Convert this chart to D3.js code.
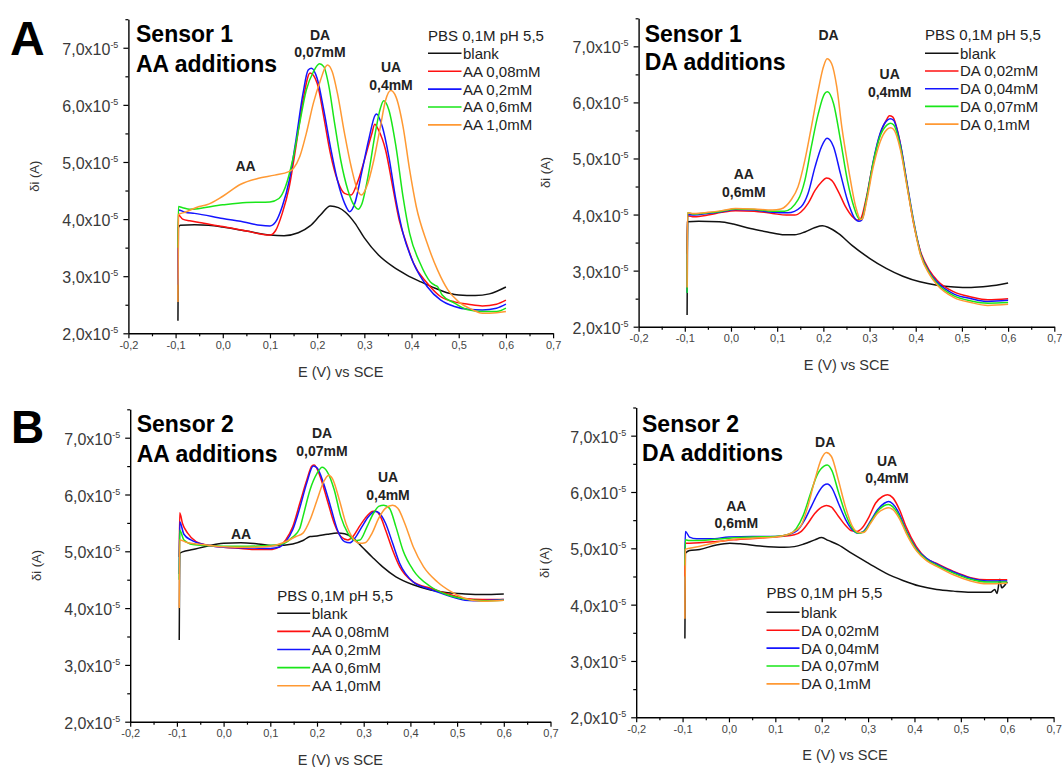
<!DOCTYPE html>
<html>
<head>
<meta charset="utf-8">
<script src="https://cdn.jsdelivr.net/npm/d3@7"></script>
<style>
  body { margin: 0; background: #fff; }
  svg { display: block; }
  text { font-family: "Liberation Sans", Arial, sans-serif; }
</style>
</head>
<body>
<svg id="chart" width="1062" height="767"></svg>
<script>
// Differential pulse voltammograms, current in units of 1e-5 A vs potential E (V vs SCE)

// ---- Sensor 1, AA additions ----
const s1aaBlank = [[-0.095,2.22],[-0.094,3.85],[-0.09,3.89],[-0.06,3.9],[-0.03,3.89],[0.0,3.86],[0.05,3.79],[0.1,3.72],[0.13,3.71],[0.16,3.76],[0.185,3.88],[0.207,4.07],[0.228,4.23],[0.245,4.2],[0.26,4.12],[0.28,3.93],[0.30,3.67],[0.33,3.37],[0.36,3.17],[0.39,3.02],[0.42,2.9],[0.45,2.79],[0.48,2.7],[0.5,2.67],[0.535,2.66],[0.565,2.69],[0.6,2.81]];
const s1aaAA008 = [[-0.095,2.95],[-0.094,4.07],[-0.085,4.0],[-0.07,3.97],[-0.05,3.94],[0.0,3.87],[0.05,3.79],[0.1,3.72],[0.112,3.8],[0.126,4.1],[0.141,4.57],[0.155,5.27],[0.17,6.08],[0.185,6.56],[0.2,6.38],[0.214,5.79],[0.228,5.15],[0.243,4.68],[0.258,4.45],[0.272,4.42],[0.287,4.68],[0.30,5.03],[0.316,5.5],[0.322,5.66],[0.33,5.56],[0.345,5.21],[0.36,4.57],[0.374,3.98],[0.389,3.58],[0.404,3.23],[0.433,2.88],[0.462,2.64],[0.491,2.55],[0.52,2.51],[0.55,2.48],[0.58,2.51],[0.6,2.58]];
const s1aaAA02 = [[-0.095,2.85],[-0.094,4.16],[-0.08,4.12],[-0.06,4.1],[0.0,4.01],[0.05,3.94],[0.08,3.89],[0.1,3.88],[0.112,3.95],[0.126,4.22],[0.141,4.68],[0.155,5.38],[0.17,6.2],[0.181,6.61],[0.188,6.64],[0.2,6.46],[0.214,5.91],[0.228,5.27],[0.243,4.68],[0.258,4.28],[0.269,4.13],[0.28,4.28],[0.294,4.8],[0.309,5.38],[0.323,5.82],[0.326,5.84],[0.338,5.62],[0.352,5.09],[0.367,4.33],[0.382,3.75],[0.404,3.23],[0.433,2.82],[0.462,2.58],[0.491,2.47],[0.52,2.42],[0.55,2.41],[0.58,2.44],[0.6,2.51]];
const s1aaAA06 = [[-0.095,3.5],[-0.094,4.22],[-0.085,4.2],[-0.07,4.17],[0.0,4.25],[0.05,4.29],[0.1,4.3],[0.119,4.36],[0.133,4.57],[0.148,5.03],[0.163,5.68],[0.177,6.26],[0.192,6.58],[0.205,6.72],[0.214,6.67],[0.225,6.32],[0.236,5.73],[0.25,5.03],[0.265,4.51],[0.28,4.22],[0.287,4.17],[0.294,4.25],[0.309,4.8],[0.323,5.5],[0.334,5.94],[0.341,6.07],[0.352,5.91],[0.367,5.27],[0.382,4.39],[0.396,3.75],[0.418,3.23],[0.44,2.9],[0.45,2.84],[0.455,2.82],[0.465,2.67],[0.491,2.53],[0.52,2.41],[0.55,2.38],[0.58,2.38],[0.6,2.44]];
const s1aaAA10 = [[-0.095,2.55],[-0.094,4.08],[-0.08,4.12],[-0.05,4.22],[-0.034,4.25],[0.0,4.4],[0.038,4.61],[0.074,4.71],[0.11,4.77],[0.14,4.83],[0.15,4.89],[0.163,5.09],[0.177,5.5],[0.192,6.03],[0.207,6.43],[0.218,6.67],[0.222,6.7],[0.232,6.58],[0.243,6.2],[0.258,5.5],[0.272,4.92],[0.287,4.48],[0.294,4.42],[0.305,4.57],[0.32,5.03],[0.334,5.62],[0.345,6.08],[0.356,6.25],[0.367,6.14],[0.382,5.62],[0.396,4.86],[0.41,4.22],[0.433,3.58],[0.455,3.11],[0.477,2.76],[0.5,2.55],[0.53,2.41],[0.55,2.35],[0.58,2.36],[0.6,2.38]];

// ---- Sensor 1, DA additions ----
const s1daBlank = [[-0.095,2.21],[-0.094,3.87],[-0.07,3.88],[-0.025,3.87],[0.005,3.83],[0.042,3.75],[0.079,3.69],[0.116,3.64],[0.138,3.64],[0.16,3.69],[0.182,3.77],[0.198,3.8],[0.211,3.77],[0.233,3.66],[0.262,3.45],[0.3,3.22],[0.336,3.04],[0.372,2.9],[0.409,2.8],[0.446,2.74],[0.483,2.71],[0.52,2.7],[0.556,2.72],[0.6,2.78]];
const s1daDA002 = [[-0.095,3.3],[-0.094,3.98],[-0.08,3.96],[-0.05,3.99],[-0.02,4.04],[0.01,4.07],[0.05,4.06],[0.09,4.02],[0.12,3.99],[0.138,3.99],[0.152,4.05],[0.167,4.2],[0.182,4.43],[0.196,4.58],[0.207,4.65],[0.218,4.61],[0.233,4.4],[0.248,4.14],[0.262,3.97],[0.273,3.9],[0.281,3.93],[0.292,4.26],[0.306,4.85],[0.321,5.38],[0.336,5.68],[0.343,5.76],[0.35,5.74],[0.365,5.33],[0.38,4.6],[0.394,3.9],[0.41,3.35],[0.43,3.0],[0.446,2.83],[0.483,2.62],[0.52,2.53],[0.556,2.48],[0.6,2.5]];
const s1daDA004 = [[-0.095,2.6],[-0.094,4.0],[-0.08,3.99],[-0.05,4.02],[-0.02,4.05],[0.01,4.09],[0.05,4.08],[0.09,4.04],[0.123,4.03],[0.152,4.14],[0.167,4.38],[0.182,4.85],[0.196,5.21],[0.208,5.36],[0.222,5.21],[0.237,4.73],[0.252,4.26],[0.266,3.96],[0.277,3.88],[0.283,3.9],[0.294,4.3],[0.308,4.95],[0.323,5.45],[0.338,5.68],[0.345,5.71],[0.352,5.68],[0.367,5.25],[0.382,4.52],[0.396,3.86],[0.41,3.33],[0.43,2.97],[0.446,2.8],[0.483,2.58],[0.52,2.5],[0.556,2.45],[0.6,2.47]];
const s1daDA007 = [[-0.095,2.6],[-0.094,4.03],[-0.08,4.01],[-0.05,4.03],[-0.02,4.06],[0.01,4.1],[0.05,4.09],[0.09,4.06],[0.116,4.06],[0.145,4.26],[0.16,4.61],[0.174,5.21],[0.189,5.8],[0.203,6.16],[0.209,6.19],[0.222,5.98],[0.237,5.33],[0.252,4.61],[0.266,4.14],[0.277,3.93],[0.283,3.92],[0.294,4.3],[0.308,4.93],[0.323,5.4],[0.338,5.6],[0.345,5.63],[0.352,5.6],[0.367,5.2],[0.382,4.48],[0.396,3.84],[0.41,3.31],[0.43,2.95],[0.446,2.77],[0.483,2.55],[0.52,2.46],[0.556,2.42],[0.6,2.43]];
const s1daDA01 = [[-0.095,2.7],[-0.094,4.03],[-0.08,4.02],[-0.05,4.04],[-0.02,4.07],[0.01,4.11],[0.05,4.1],[0.09,4.08],[0.108,4.1],[0.13,4.26],[0.145,4.49],[0.16,4.97],[0.174,5.56],[0.189,6.22],[0.2,6.63],[0.208,6.78],[0.218,6.69],[0.229,6.28],[0.24,5.56],[0.255,4.79],[0.27,4.14],[0.281,3.91],[0.285,3.93],[0.294,4.25],[0.308,4.85],[0.323,5.3],[0.338,5.52],[0.345,5.55],[0.352,5.52],[0.367,5.15],[0.382,4.46],[0.396,3.82],[0.41,3.29],[0.43,2.93],[0.446,2.75],[0.483,2.52],[0.52,2.43],[0.556,2.38],[0.6,2.4]];

// ---- Sensor 2, AA additions ----
const s2aaBlank = [[-0.095,3.44],[-0.094,4.96],[-0.088,4.99],[-0.066,5.03],[-0.036,5.09],[0.0,5.14],[0.037,5.15],[0.074,5.13],[0.111,5.1],[0.148,5.13],[0.17,5.19],[0.185,5.26],[0.2,5.27],[0.222,5.3],[0.244,5.32],[0.259,5.31],[0.273,5.26],[0.296,5.08],[0.318,4.9],[0.34,4.73],[0.369,4.55],[0.406,4.41],[0.443,4.32],[0.48,4.27],[0.517,4.25],[0.554,4.24],[0.6,4.25]];
const s2aaAA008 = [[-0.095,4.9],[-0.094,5.68],[-0.088,5.49],[-0.077,5.32],[-0.059,5.17],[-0.036,5.11],[0.0,5.07],[0.037,5.05],[0.074,5.03],[0.104,5.03],[0.119,5.08],[0.133,5.2],[0.148,5.43],[0.163,5.84],[0.178,6.25],[0.189,6.5],[0.194,6.52],[0.207,6.31],[0.222,5.9],[0.237,5.49],[0.251,5.26],[0.266,5.2],[0.277,5.26],[0.288,5.4],[0.303,5.58],[0.318,5.7],[0.325,5.71],[0.336,5.61],[0.347,5.37],[0.362,5.02],[0.377,4.73],[0.406,4.46],[0.443,4.35],[0.48,4.25],[0.517,4.17],[0.554,4.15],[0.6,4.15]];
const s2aaAA02 = [[-0.095,4.6],[-0.094,5.52],[-0.085,5.3],[-0.07,5.2],[-0.036,5.11],[0.0,5.07],[0.05,5.06],[0.1,5.05],[0.119,5.07],[0.133,5.17],[0.148,5.38],[0.163,5.76],[0.178,6.2],[0.192,6.5],[0.2,6.47],[0.214,6.2],[0.229,5.79],[0.244,5.37],[0.259,5.17],[0.27,5.15],[0.281,5.23],[0.296,5.43],[0.31,5.61],[0.325,5.7],[0.332,5.68],[0.347,5.49],[0.362,5.14],[0.377,4.79],[0.406,4.46],[0.443,4.33],[0.48,4.22],[0.517,4.14],[0.554,4.13],[0.6,4.15]];
const s2aaAA06 = [[-0.095,4.5],[-0.094,5.37],[-0.085,5.2],[-0.066,5.12],[-0.036,5.1],[0.0,5.09],[0.05,5.09],[0.1,5.1],[0.125,5.13],[0.148,5.25],[0.163,5.4],[0.17,5.61],[0.185,6.08],[0.2,6.37],[0.211,6.48],[0.222,6.4],[0.237,6.08],[0.251,5.61],[0.266,5.32],[0.281,5.19],[0.292,5.2],[0.307,5.43],[0.321,5.67],[0.332,5.79],[0.343,5.81],[0.355,5.76],[0.369,5.43],[0.384,5.02],[0.406,4.67],[0.443,4.38],[0.48,4.23],[0.517,4.16],[0.554,4.13],[0.6,4.14]];
const s2aaAA10 = [[-0.095,4.0],[-0.094,5.2],[-0.08,5.16],[-0.036,5.11],[0.0,5.08],[0.05,5.07],[0.1,5.09],[0.13,5.16],[0.155,5.26],[0.17,5.32],[0.185,5.55],[0.2,5.9],[0.214,6.22],[0.225,6.34],[0.233,6.28],[0.248,5.9],[0.262,5.49],[0.277,5.23],[0.292,5.14],[0.303,5.15],[0.318,5.32],[0.332,5.58],[0.347,5.76],[0.362,5.81],[0.373,5.76],[0.388,5.49],[0.406,5.08],[0.428,4.73],[0.458,4.46],[0.487,4.29],[0.517,4.17],[0.554,4.12],[0.6,4.14]];

// ---- Sensor 2, DA additions ----
const s2daBlank = [[-0.095,3.4],[-0.094,4.91],[-0.085,4.96],[-0.063,4.98],[-0.027,5.06],[0.002,5.09],[0.024,5.08],[0.068,5.04],[0.119,5.02],[0.141,5.03],[0.163,5.08],[0.185,5.15],[0.2,5.19],[0.214,5.14],[0.236,5.06],[0.265,4.91],[0.302,4.73],[0.338,4.56],[0.375,4.43],[0.411,4.33],[0.448,4.27],[0.484,4.24],[0.521,4.22],[0.565,4.22],[0.573,4.27],[0.578,4.2],[0.584,4.45],[0.588,4.3],[0.598,4.38],[0.6,4.4]];
const s2daDA002 = [[-0.095,4.5],[-0.094,5.09],[-0.085,5.09],[-0.027,5.12],[0.009,5.15],[0.082,5.19],[0.141,5.24],[0.156,5.3],[0.17,5.44],[0.185,5.62],[0.2,5.73],[0.21,5.76],[0.221,5.73],[0.236,5.57],[0.251,5.41],[0.265,5.31],[0.276,5.3],[0.287,5.36],[0.302,5.56],[0.316,5.8],[0.331,5.92],[0.342,5.95],[0.353,5.9],[0.368,5.68],[0.382,5.38],[0.404,5.03],[0.426,4.82],[0.448,4.73],[0.484,4.59],[0.521,4.48],[0.557,4.44],[0.6,4.44]];
const s2daDA004 = [[-0.095,4.8],[-0.094,5.3],[-0.085,5.2],[-0.07,5.17],[-0.04,5.17],[0.0,5.2],[0.05,5.21],[0.1,5.21],[0.13,5.25],[0.148,5.32],[0.163,5.5],[0.178,5.75],[0.192,5.98],[0.205,6.12],[0.212,6.14],[0.222,6.07],[0.236,5.8],[0.251,5.52],[0.265,5.34],[0.279,5.27],[0.29,5.3],[0.305,5.48],[0.32,5.68],[0.335,5.8],[0.344,5.83],[0.353,5.79],[0.368,5.6],[0.382,5.32],[0.404,5.0],[0.426,4.82],[0.448,4.72],[0.484,4.58],[0.521,4.47],[0.557,4.42],[0.6,4.42]];
const s2daDA007 = [[-0.095,4.7],[-0.094,5.15],[-0.085,5.14],[-0.06,5.14],[-0.03,5.16],[0.0,5.18],[0.05,5.2],[0.1,5.21],[0.13,5.25],[0.145,5.35],[0.16,5.58],[0.175,5.95],[0.19,6.3],[0.205,6.46],[0.212,6.48],[0.222,6.38],[0.236,6.0],[0.251,5.62],[0.265,5.37],[0.279,5.27],[0.29,5.29],[0.305,5.46],[0.32,5.65],[0.335,5.76],[0.344,5.78],[0.353,5.74],[0.368,5.56],[0.382,5.3],[0.404,4.98],[0.426,4.8],[0.448,4.7],[0.484,4.56],[0.521,4.45],[0.557,4.4],[0.6,4.4]];
const s2daDA01 = [[-0.095,3.75],[-0.094,4.98],[-0.085,5.0],[-0.06,5.04],[-0.03,5.1],[0.0,5.15],[0.05,5.18],[0.1,5.2],[0.125,5.24],[0.141,5.3],[0.156,5.41],[0.17,5.74],[0.185,6.21],[0.2,6.6],[0.21,6.7],[0.221,6.63],[0.236,6.21],[0.251,5.74],[0.265,5.41],[0.28,5.28],[0.29,5.28],[0.305,5.44],[0.32,5.62],[0.335,5.7],[0.344,5.72],[0.353,5.69],[0.368,5.52],[0.382,5.27],[0.404,4.96],[0.426,4.78],[0.448,4.68],[0.484,4.53],[0.521,4.42],[0.557,4.37],[0.6,4.38]];

// ---- axes, legends, labels ----
const potentialTicks = [-0.2, -0.1, 0.0, 0.1, 0.2, 0.3, 0.4, 0.5, 0.6, 0.7];
const potentialMinorTicks = [-0.15, -0.05, 0.05, 0.15, 0.25, 0.35, 0.45, 0.55, 0.65];
const currentTicks = [2, 3, 4, 5, 6, 7];
const currentMinorTicks = [2.5, 3.5, 4.5, 5.5, 6.5, 7.5];
const currentExponent = "-5";
const seriesColors = ["#111111", "#ff1010", "#1414ff", "#19e619", "#ff9933"];
const legendTitle = "PBS 0,1M pH 5,5";
const aaLegendNames = ["blank", "AA 0,08mM", "AA 0,2mM", "AA 0,6mM", "AA 1,0mM"];
const daLegendNames = ["blank", "DA 0,02mM", "DA 0,04mM", "DA 0,07mM", "DA 0,1mM"];
const xAxisTitle = "E (V) vs SCE";
const yAxisTitle = "δi (A)";

const fmt = d3.formatLocale({decimal: ",", thousands: ".", grouping: [3], currency: ["", ""], minus: "-"}).format(".1f");

const panels = [
  { letter: {text: "A", x: 10, y: 55, size: 48},
    frame: {x0: 128.4, x1: 553.1, y0: 333.3, y1: 19.2},
    series: [s1aaBlank, s1aaAA008, s1aaAA02, s1aaAA06, s1aaAA10], names: aaLegendNames,
    title: ["Sensor 1", "AA additions"], titleX: 136, titleY: [42.2, 71.5],
    legend: {x: 428, titleY: 41, rows: [53.3, 71.2, 89.1, 107, 124.9], lineLen: 33.5},
    xTitleY: 377, yTitleX: 34.4,
    notes: [["DA", 320, 35], ["0,07mM", 320, 52], ["UA", 391, 67], ["0,4mM", 391, 85], ["AA", 245.5, 165.7]] },
  { letter: null,
    frame: {x0: 638.6, x1: 1054.3, y0: 326.7, y1: 18.3},
    series: [s1daBlank, s1daDA002, s1daDA004, s1daDA007, s1daDA01], names: daLegendNames,
    title: ["Sensor 1", "DA additions"], titleX: 644.7, titleY: [41.5, 70],
    legend: {x: 925, titleY: 39.5, rows: [53.3, 71, 88.7, 106.4, 124.1], lineLen: 33.5},
    xTitleY: 370, yTitleX: 545.3,
    notes: [["DA", 828.6, 35], ["UA", 889.7, 74], ["0,4mM", 889.7, 91.7], ["AA", 743.8, 174], ["0,6mM", 743.8, 191.7]] },
  { letter: {text: "B", x: 11, y: 443, size: 46},
    frame: {x0: 130.2, x1: 550.5, y0: 721.7, y1: 409.3},
    series: [s2aaBlank, s2aaAA008, s2aaAA02, s2aaAA06, s2aaAA10], names: aaLegendNames,
    title: ["Sensor 2", "AA additions"], titleX: 136.7, titleY: [432.2, 461.5],
    legend: {x: 277.2, titleY: 600.7, rows: [613.3, 631.4, 649.5, 667.6, 685.7], lineLen: 33},
    xTitleY: 764.5, yTitleX: 36.2,
    notes: [["DA", 322, 433.3], ["0,07mM", 322, 450.7], ["UA", 388, 477.3], ["0,4mM", 388, 495], ["AA", 241, 534.3]] },
  { letter: null,
    frame: {x0: 636.2, x1: 1053.6, y0: 717.3, y1: 407.5},
    series: [s2daBlank, s2daDA002, s2daDA004, s2daDA007, s2daDA01], names: daLegendNames,
    title: ["Sensor 2", "DA additions"], titleX: 642, titleY: [431.5, 461],
    legend: {x: 766.5, titleY: 598.3, rows: [612.3, 630.2, 648.1, 666, 683.9], lineLen: 33},
    xTitleY: 760, yTitleX: 544.3,
    notes: [["DA", 825.2, 441.7], ["UA", 887, 461], ["0,4mM", 887, 478.3], ["AA", 736.3, 506], ["0,6mM", 736.3, 523.3]] }
];

const svg = d3.select("#chart");

panels.forEach(p => {
  const g = svg.append("g");
  const x = d3.scaleLinear().domain([-0.2, 0.7]).range([p.frame.x0, p.frame.x1]);
  const y = d3.scaleLinear().domain([2, 7.5]).range([p.frame.y0, p.frame.y1]);

  // x axis with major and minor ticks
  const xAxis = g.append("g").attr("transform", `translate(0,${p.frame.y0})`)
    .call(d3.axisBottom(x).tickValues(potentialTicks).tickFormat(fmt).tickSize(5).tickSizeOuter(0).tickPadding(3));
  xAxis.select(".domain").attr("stroke", "#000").attr("stroke-width", 1.4);
  xAxis.selectAll(".tick line").attr("stroke", "#000").attr("stroke-width", 1.2);
  xAxis.selectAll(".tick text").attr("font-size", 11).attr("fill", "#444")
    .attr("font-family", "'Liberation Sans', Arial, sans-serif");
  const xMinor = g.append("g").attr("transform", `translate(0,${p.frame.y0})`)
    .call(d3.axisBottom(x).tickValues(potentialMinorTicks).tickFormat("").tickSize(3).tickSizeOuter(0));
  xMinor.select(".domain").remove();
  xMinor.selectAll(".tick line").attr("stroke", "#000").attr("stroke-width", 1.2);

  // y axis with major and minor ticks
  const yAxis = g.append("g").attr("transform", `translate(${p.frame.x0},0)`)
    .call(d3.axisLeft(y).tickValues(currentTicks).tickFormat("").tickSize(5).tickSizeOuter(0));
  yAxis.select(".domain").attr("stroke", "#000").attr("stroke-width", 1.4);
  yAxis.selectAll(".tick line").attr("stroke", "#000").attr("stroke-width", 1.2);
  const yMinor = g.append("g").attr("transform", `translate(${p.frame.x0},0)`)
    .call(d3.axisLeft(y).tickValues(currentMinorTicks).tickFormat("").tickSize(3).tickSizeOuter(0));
  yMinor.select(".domain").remove();
  yMinor.selectAll(".tick line").attr("stroke", "#000").attr("stroke-width", 1.2);

  // y tick labels as "n,nx10^-5"
  currentTicks.forEach(v => {
    const t = g.append("text")
      .attr("x", p.frame.x0 - 10).attr("y", y(v) + 7)
      .attr("text-anchor", "end").attr("fill", "#3a3a3a").attr("font-size", 16);
    t.append("tspan").text(fmt(v) + "x10");
    t.append("tspan").attr("dy", -7).attr("font-size", 9).text(currentExponent);
  });

  // axis titles
  g.append("text").attr("x", (p.frame.x0 + p.frame.x1) / 2).attr("y", p.xTitleY)
    .attr("text-anchor", "middle").attr("font-size", 14.5).attr("fill", "#333").text(xAxisTitle);
  g.append("text")
    .attr("transform", `translate(${p.yTitleX + 4.5},${(p.frame.y0 + p.frame.y1) / 2}) rotate(-90)`)
    .attr("text-anchor", "middle").attr("font-size", 13).attr("fill", "#333").text(yAxisTitle);

  // voltammogram curves
  const line = d3.line().x(d => x(d[0])).y(d => y(d[1])).curve(d3.curveMonotoneX);
  g.append("g").selectAll("path").data(p.series).join("path")
    .attr("d", line).attr("fill", "none")
    .attr("stroke", (d, i) => seriesColors[i]).attr("stroke-width", 1.5)
    .attr("stroke-linejoin", "round");

  // panel title
  p.title.forEach((s, i) => {
    g.append("text").attr("x", p.titleX).attr("y", p.titleY[i])
      .attr("font-size", 23).attr("font-weight", "bold").attr("fill", "#000").text(s);
  });

  // peak annotations
  p.notes.forEach(n => {
    g.append("text").attr("x", n[1]).attr("y", n[2] + 5)
      .attr("text-anchor", "middle").attr("font-size", 14).attr("font-weight", "bold")
      .attr("fill", "#222").text(n[0]);
  });

  // legend
  const lg = g.append("g");
  lg.append("text").attr("x", p.legend.x).attr("y", p.legend.titleY)
    .attr("font-size", 15).attr("fill", "#222").text(legendTitle);
  p.names.forEach((name, i) => {
    const ry = p.legend.rows[i];
    lg.append("line").attr("x1", p.legend.x).attr("x2", p.legend.x + p.legend.lineLen)
      .attr("y1", ry).attr("y2", ry).attr("stroke", seriesColors[i]).attr("stroke-width", 1.6);
    lg.append("text").attr("x", p.legend.x + p.legend.lineLen + 1.5).attr("y", ry + 5.4)
      .attr("font-size", 15).attr("fill", "#222").text(name);
  });

  // panel letter
  if (p.letter) {
    svg.append("text").attr("x", p.letter.x).attr("y", p.letter.y)
      .attr("font-size", p.letter.size).attr("font-weight", "bold").attr("fill", "#000")
      .text(p.letter.text);
  }
});
</script>
</body>
</html>
